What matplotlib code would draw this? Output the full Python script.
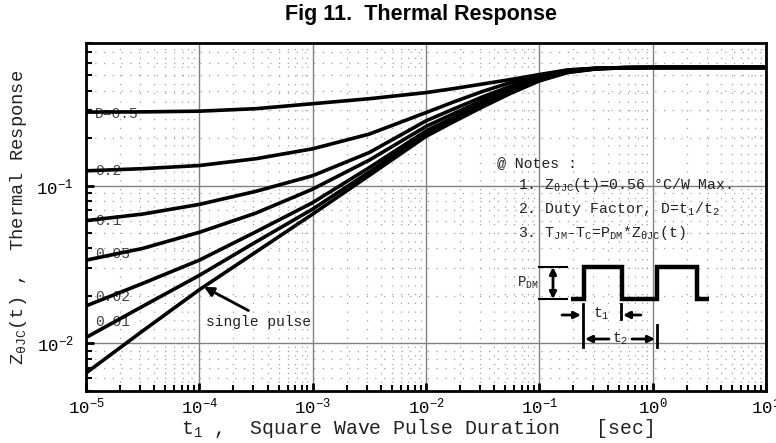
import numpy as np
import matplotlib
matplotlib.use("Agg")
import matplotlib.pyplot as plt

plt.rcParams['font.family'] = ['Liberation Mono', 'DejaVu Sans']
plt.rcParams['mathtext.fontset'] = 'custom'
plt.rcParams['mathtext.rm'] = 'Liberation Mono'
plt.rcParams['mathtext.it'] = 'Liberation Mono'
plt.rcParams['mathtext.bf'] = 'Liberation Mono:bold'

# ---- data ----
log_t = [-5, -4.5, -4, -3.5, -3, -2.5, -2, -1.75, -1.5, -1.25, -1, -0.75, -0.5, -0.25, 0, 0.5, 1]
z_single = [0.0065, 0.0120, 0.0219, 0.0380, 0.0660, 0.116, 0.205, 0.255, 0.315, 0.385, 0.460, 0.520, 0.548, 0.557, 0.560, 0.560, 0.560]
z_d001 = [0.0109, 0.0172, 0.0270, 0.0440, 0.0710, 0.122, 0.213, 0.262, 0.322, 0.392, 0.465, 0.523, 0.549, 0.557, 0.560, 0.560, 0.560]
z_d002 = [0.0173, 0.0240, 0.0337, 0.0510, 0.0780, 0.130, 0.222, 0.272, 0.332, 0.400, 0.472, 0.527, 0.550, 0.558, 0.560, 0.560, 0.560]
z_d005 = [0.0337, 0.0400, 0.0506, 0.0670, 0.0950, 0.145, 0.237, 0.287, 0.347, 0.412, 0.480, 0.530, 0.551, 0.558, 0.560, 0.560, 0.560]
z_d01 = [0.0600, 0.0660, 0.0760, 0.0920, 0.1155, 0.162, 0.257, 0.307, 0.365, 0.427, 0.490, 0.534, 0.552, 0.558, 0.560, 0.560, 0.560]
z_d02 = [0.124, 0.128, 0.134, 0.148, 0.171, 0.212, 0.290, 0.340, 0.395, 0.450, 0.500, 0.538, 0.553, 0.559, 0.560, 0.560, 0.560]
z_d05 = [0.292, 0.293, 0.296, 0.307, 0.330, 0.355, 0.388, 0.412, 0.440, 0.470, 0.505, 0.540, 0.554, 0.559, 0.560, 0.560, 0.560]

curves = [z_d05, z_d02, z_d01, z_d005, z_d002, z_d001, z_single]
curve_labels = ["D=0.5", "0.2", "0.1", "0.05", "0.02", "0.01"]
label_y = [0.284, 0.124, 0.060, 0.0368, 0.0198, 0.0136]
label_x = 1.2e-5

title = "Fig 11.  Thermal Response"
xlabel = r"t$_1$ ,  Square Wave Pulse Duration   [sec]"
ylabel = r"Z$_{\theta JC}$(t) ,  Thermal Response"

W, H = 776, 443
fig = plt.figure(figsize=(W / 100, H / 100), dpi=100)
L, R, T, B = 86, 766, 43, 391
ax = fig.add_axes([L / W, 1 - B / H, (R - L) / W, (B - T) / H])
ax.set_xscale('log')
ax.set_yscale('log')
ax.set_xlim(1e-5, 10)
ax.set_ylim(0.005, 0.8)

ax.grid(True, which='major', color='#808080', lw=1.0, ls='-')
ax.grid(True, which='minor', color='#a0a0a0', lw=0.9, ls=(0, (1, 6)))
ax.set_axisbelow(True)

t_vals = [10.0 ** v for v in log_t]
for z in curves:
    ax.plot(t_vals, z, color='black', lw=2.6, solid_capstyle='butt',
            solid_joinstyle='round', zorder=3)

for lab, ly in zip(curve_labels, label_y):
    ax.text(label_x, ly, lab, fontsize=10.5, color='#444444', va='center', ha='left', zorder=2)

# single pulse annotation
ax.annotate("", xy=(1.1e-4, 0.0228), xytext=(32, -17), textcoords='offset points',
            arrowprops=dict(arrowstyle='-|>', color='black', lw=2.0, mutation_scale=14,
                            shrinkA=0, shrinkB=0), zorder=4)
ax.text(1.15e-4, 0.0136, "single pulse", fontsize=10.5, color='#222222', va='center', ha='left')

for s in ax.spines.values():
    s.set_linewidth(2.0)
ax.tick_params(which='both', direction='in', top=False, right=False, labelsize=12.5)
ax.tick_params(which='major', length=6, width=2.0)
ax.tick_params(which='minor', length=4, width=1.5)
ax.tick_params(axis='x', pad=4)
ax.tick_params(axis='y', pad=9)

fig.text(421 / W, 1 - 14.5 / H, title, ha='center', va='center',
         fontsize=15.5, fontweight='bold', family='Liberation Sans')
fig.text(417 / W, 1 - 429 / H, xlabel, ha='center', va='center', fontsize=14.3, color='#222222')
fig.text(19 / W, 1 - 217 / H, ylabel, ha='center', va='center', rotation=90, fontsize=13.5,
         color='#222222')

# ---- notes ----
def P(px, py):
    return ((px - L) / (R - L), (B - py) / (B - T))

notes = ["@ Notes :",
         r"1. Z$_{\theta JC}$(t)=0.56 °C/W Max.",
         r"2. Duty Factor, D=t$_1$/t$_2$",
         r"3. T$_{JM}$-T$_C$=P$_{DM}$*Z$_{\theta JC}$(t)"]
note_pos = [(497, 163), (518, 185), (518, 209), (518, 233)]
for txt, (px, py) in zip(notes, note_pos):
    ax.text(*P(px, py), txt, transform=ax.transAxes, fontsize=10.7, color='#222222',
            va='center', ha='left')

# pulse diagram
px_wave = [571, 584, 584, 622, 622, 657, 657, 697, 697, 709]
py_wave = [299, 299, 267, 267, 299, 299, 267, 267, 299, 299]
pts = [P(a, b) for a, b in zip(px_wave, py_wave)]
ax.plot([p[0] for p in pts], [p[1] for p in pts], transform=ax.transAxes, color='black',
        lw=3.2, solid_joinstyle='miter', solid_capstyle='butt', zorder=5)

def seg(x0, y0, x1, y1, lw=1.5):
    a, b = P(x0, y0), P(x1, y1)
    ax.plot([a[0], b[0]], [a[1], b[1]], transform=ax.transAxes, color='black', lw=lw, zorder=5)

def arr(x0, y0, x1, y1):
    ax.annotate("", xy=P(x1, y1), xytext=P(x0, y0), xycoords='axes fraction',
                textcoords='axes fraction',
                arrowprops=dict(arrowstyle='-|>', color='black', lw=2.0, mutation_scale=10,
                                shrinkA=0, shrinkB=0), zorder=5)

seg(539, 267, 567, 267)
seg(539, 299, 567, 299)
ax.annotate("", xy=P(553, 267), xytext=P(553, 299), xycoords='axes fraction',
            textcoords='axes fraction',
            arrowprops=dict(arrowstyle='<|-|>', color='black', lw=2.0, mutation_scale=10,
                            shrinkA=0, shrinkB=0), zorder=5)
ax.text(*P(517, 283), r"P$_{\rm DM}$", transform=ax.transAxes, fontsize=10, va='center',
        ha='left', color='#222222')

seg(583, 304, 583, 347, lw=2.0)
seg(621, 304, 621, 319, lw=2.0)
seg(657, 325, 657, 347, lw=2.0)
arr(562, 315, 581, 315)
arr(641, 315, 623, 315)
ax.text(*P(601, 314), r"t$_1$", transform=ax.transAxes, fontsize=10.5, va='center',
        ha='center', color='#222222')
arr(609, 339, 585, 339)
arr(632, 339, 655, 339)
ax.text(*P(620, 339), r"t$_2$", transform=ax.transAxes, fontsize=10.5, va='center',
        ha='center', color='#222222')

fig.savefig("out.png", dpi=100)
